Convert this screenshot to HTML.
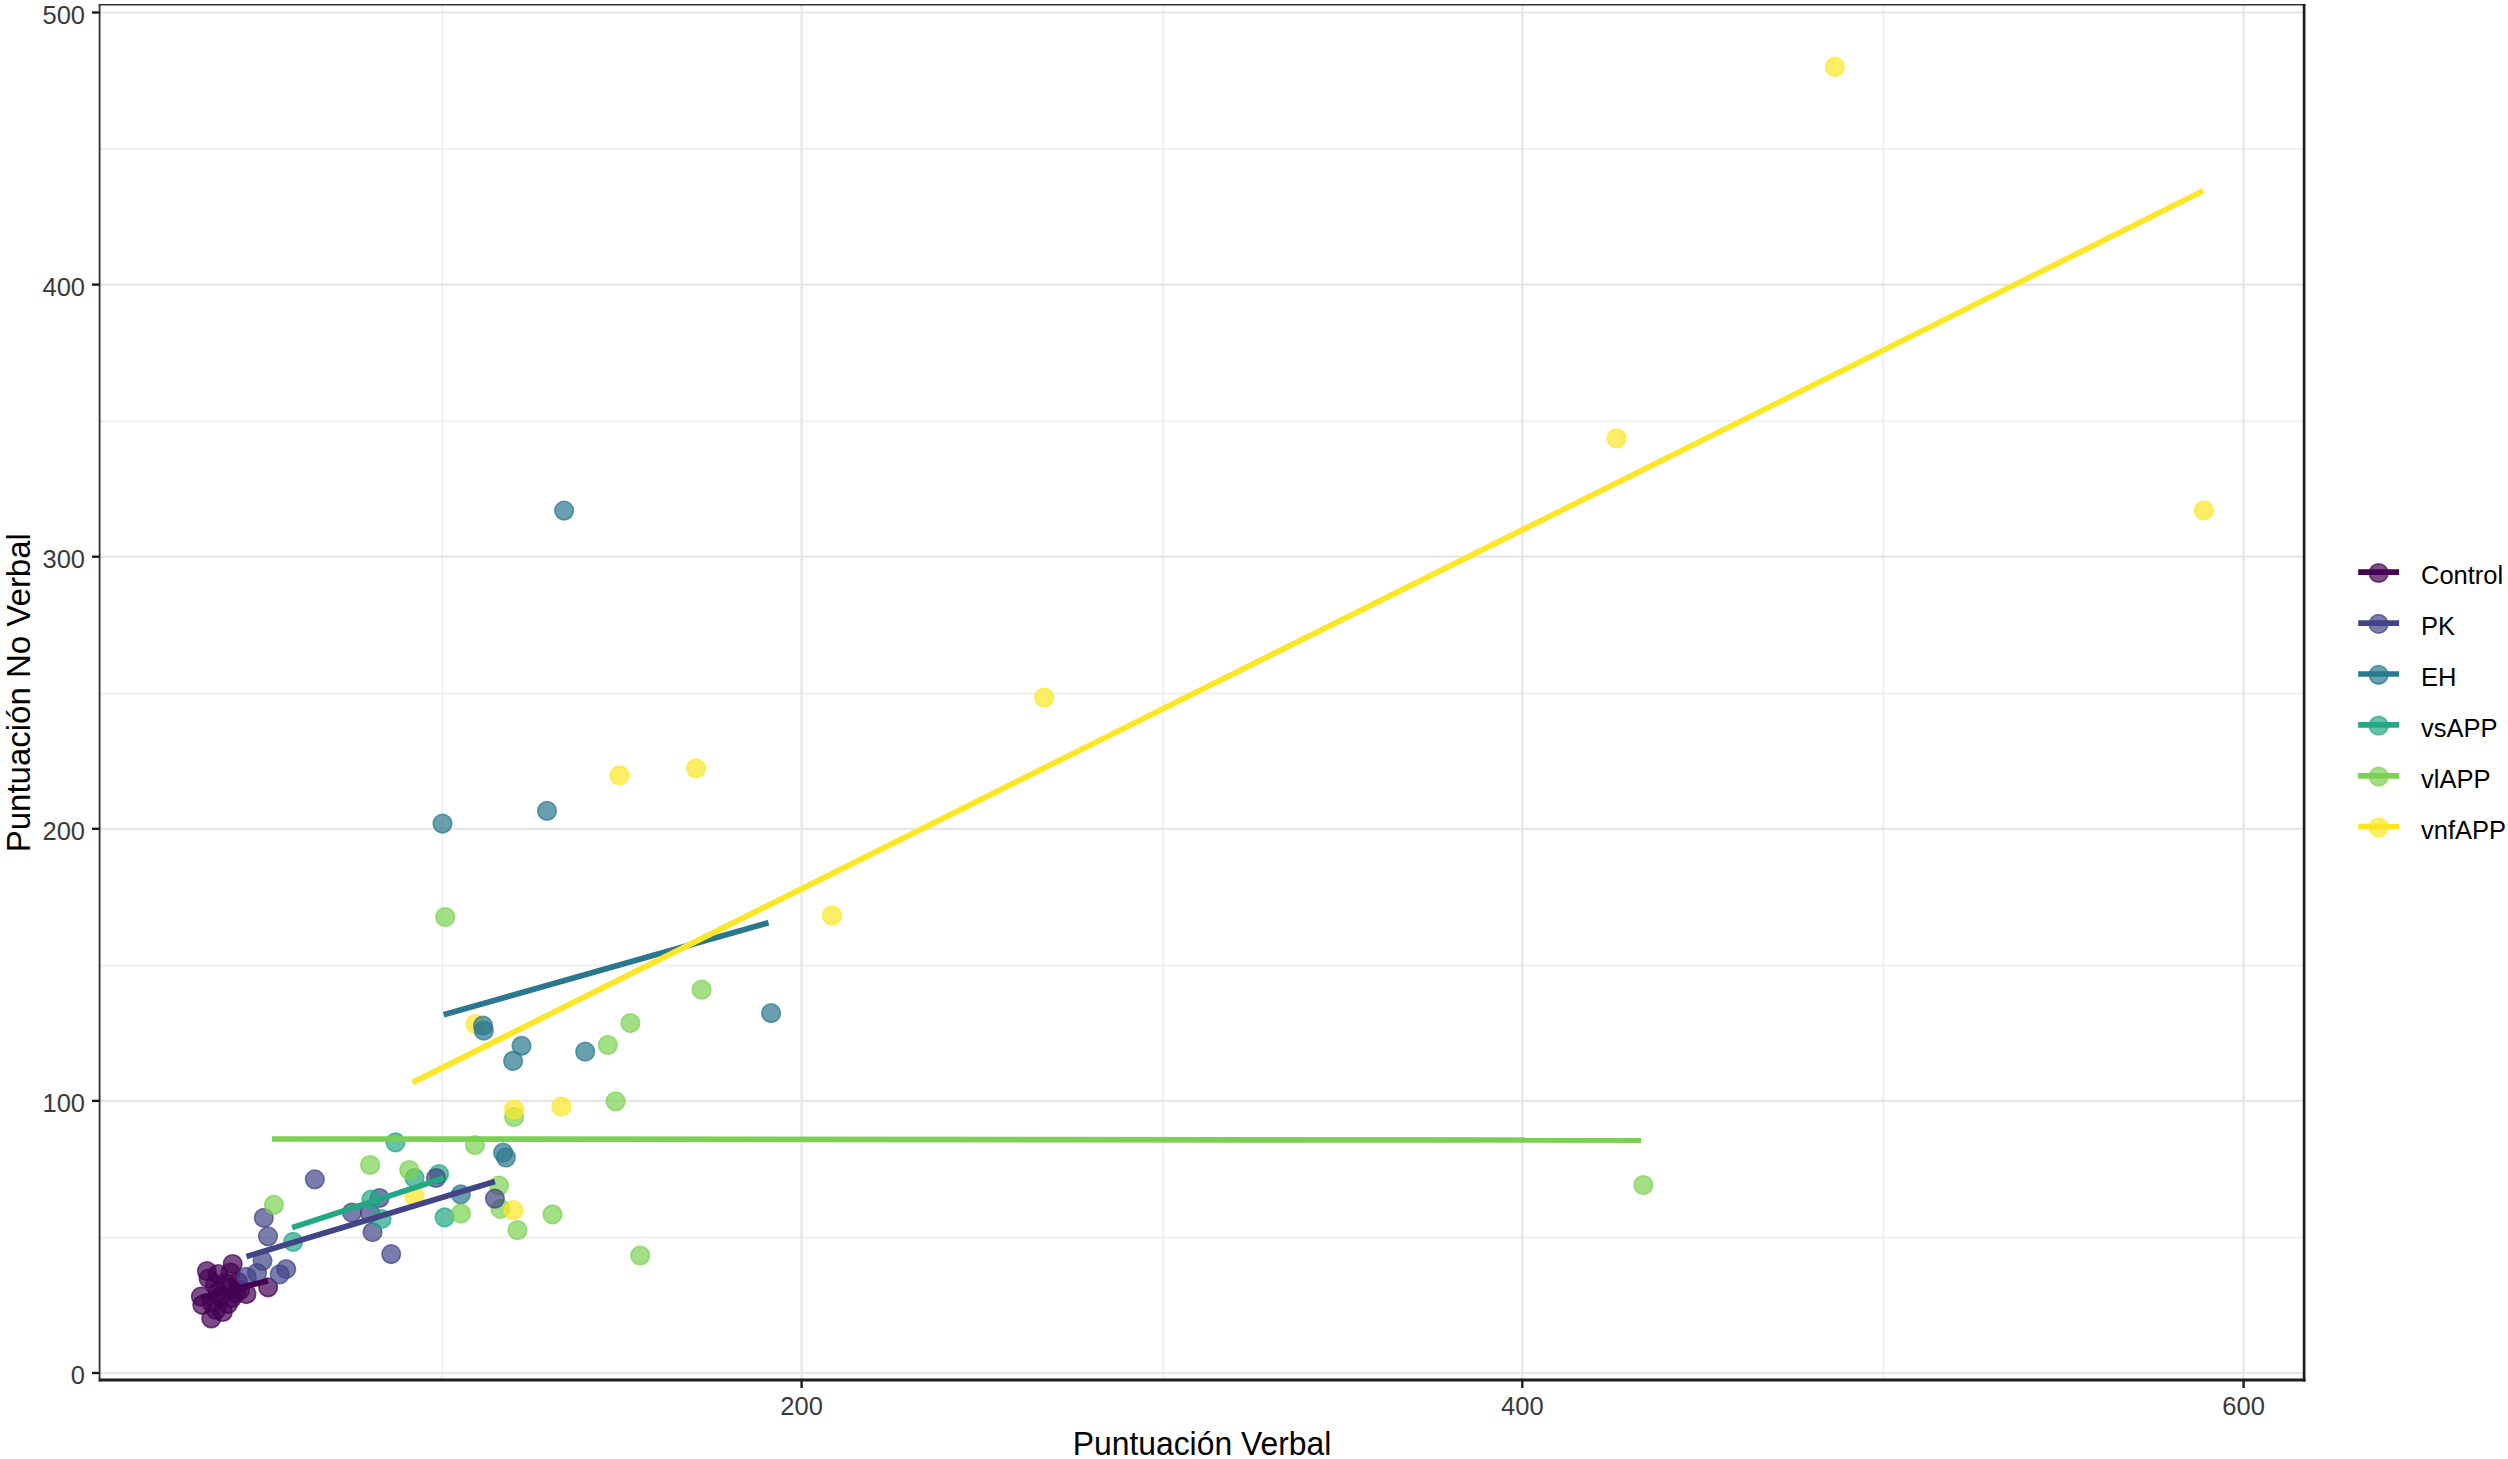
<!DOCTYPE html><html><head><meta charset="utf-8"><style>html,body{margin:0;padding:0;background:#fff;overflow:hidden}svg{display:block}text{font-family:"Liberation Sans",sans-serif}</style></head><body>
<svg width="2508" height="1459" viewBox="0 0 2508 1459">
<rect x="0" y="0" width="2508" height="1459" fill="#fff"/>
<g>
<line x1="99.5" x2="2304.3" y1="1237.5" y2="1237.5" stroke="#F0F0F0" stroke-width="2"/>
<line x1="99.5" x2="2304.3" y1="965.4" y2="965.4" stroke="#F0F0F0" stroke-width="2"/>
<line x1="99.5" x2="2304.3" y1="693.4" y2="693.4" stroke="#F0F0F0" stroke-width="2"/>
<line x1="99.5" x2="2304.3" y1="421.2" y2="421.2" stroke="#F0F0F0" stroke-width="2"/>
<line x1="99.5" x2="2304.3" y1="149.1" y2="149.1" stroke="#F0F0F0" stroke-width="2"/>
<line x1="442.3" x2="442.3" y1="4.6" y2="1380.0" stroke="#F0F0F0" stroke-width="2"/>
<line x1="1163.3" x2="1163.3" y1="4.6" y2="1380.0" stroke="#F0F0F0" stroke-width="2"/>
<line x1="1883.4" x2="1883.4" y1="4.6" y2="1380.0" stroke="#F0F0F0" stroke-width="2"/>
<line x1="99.5" x2="2304.3" y1="1373.0" y2="1373.0" stroke="#E6E6E6" stroke-width="2.2"/>
<line x1="99.5" x2="2304.3" y1="1100.9" y2="1100.9" stroke="#E6E6E6" stroke-width="2.2"/>
<line x1="99.5" x2="2304.3" y1="828.8" y2="828.8" stroke="#E6E6E6" stroke-width="2.2"/>
<line x1="99.5" x2="2304.3" y1="556.7" y2="556.7" stroke="#E6E6E6" stroke-width="2.2"/>
<line x1="99.5" x2="2304.3" y1="284.6" y2="284.6" stroke="#E6E6E6" stroke-width="2.2"/>
<line x1="99.5" x2="2304.3" y1="12.5" y2="12.5" stroke="#E6E6E6" stroke-width="2.2"/>
<line x1="801.6" x2="801.6" y1="4.6" y2="1380.0" stroke="#E6E6E6" stroke-width="2.2"/>
<line x1="1522.3" x2="1522.3" y1="4.6" y2="1380.0" stroke="#E6E6E6" stroke-width="2.2"/>
<line x1="2243.6" x2="2243.6" y1="4.6" y2="1380.0" stroke="#E6E6E6" stroke-width="2.2"/>
</g>
<g>
<circle cx="206.9" cy="1271.1" r="9.299999999999999" fill="#440154" fill-opacity="0.7" stroke="#440154" stroke-opacity="0.7" stroke-width="1.6"/>
<circle cx="232.7" cy="1264" r="9.299999999999999" fill="#440154" fill-opacity="0.7" stroke="#440154" stroke-opacity="0.7" stroke-width="1.6"/>
<circle cx="230.5" cy="1272.5" r="9.299999999999999" fill="#440154" fill-opacity="0.7" stroke="#440154" stroke-opacity="0.7" stroke-width="1.6"/>
<circle cx="200.9" cy="1296.6" r="9.299999999999999" fill="#440154" fill-opacity="0.7" stroke="#440154" stroke-opacity="0.7" stroke-width="1.6"/>
<circle cx="202.3" cy="1304.8" r="9.299999999999999" fill="#440154" fill-opacity="0.7" stroke="#440154" stroke-opacity="0.7" stroke-width="1.6"/>
<circle cx="211.3" cy="1318.5" r="9.299999999999999" fill="#440154" fill-opacity="0.7" stroke="#440154" stroke-opacity="0.7" stroke-width="1.6"/>
<circle cx="222.8" cy="1312" r="9.299999999999999" fill="#440154" fill-opacity="0.7" stroke="#440154" stroke-opacity="0.7" stroke-width="1.6"/>
<circle cx="246.4" cy="1294.1" r="9.299999999999999" fill="#440154" fill-opacity="0.7" stroke="#440154" stroke-opacity="0.7" stroke-width="1.6"/>
<circle cx="268.1" cy="1287.3" r="9.299999999999999" fill="#440154" fill-opacity="0.7" stroke="#440154" stroke-opacity="0.7" stroke-width="1.6"/>
<circle cx="208.6" cy="1278.5" r="9.299999999999999" fill="#440154" fill-opacity="0.7" stroke="#440154" stroke-opacity="0.7" stroke-width="1.6"/>
<circle cx="218" cy="1292" r="9.299999999999999" fill="#440154" fill-opacity="0.7" stroke="#440154" stroke-opacity="0.7" stroke-width="1.6"/>
<circle cx="230" cy="1288" r="9.299999999999999" fill="#440154" fill-opacity="0.7" stroke="#440154" stroke-opacity="0.7" stroke-width="1.6"/>
<circle cx="238" cy="1282" r="9.299999999999999" fill="#440154" fill-opacity="0.7" stroke="#440154" stroke-opacity="0.7" stroke-width="1.6"/>
<circle cx="218" cy="1274" r="9.299999999999999" fill="#440154" fill-opacity="0.7" stroke="#440154" stroke-opacity="0.7" stroke-width="1.6"/>
<circle cx="215" cy="1285" r="9.299999999999999" fill="#440154" fill-opacity="0.7" stroke="#440154" stroke-opacity="0.7" stroke-width="1.6"/>
<circle cx="225" cy="1283" r="9.299999999999999" fill="#440154" fill-opacity="0.7" stroke="#440154" stroke-opacity="0.7" stroke-width="1.6"/>
<circle cx="220" cy="1297" r="9.299999999999999" fill="#440154" fill-opacity="0.7" stroke="#440154" stroke-opacity="0.7" stroke-width="1.6"/>
<circle cx="212" cy="1303" r="9.299999999999999" fill="#440154" fill-opacity="0.7" stroke="#440154" stroke-opacity="0.7" stroke-width="1.6"/>
<circle cx="232" cy="1298" r="9.299999999999999" fill="#440154" fill-opacity="0.7" stroke="#440154" stroke-opacity="0.7" stroke-width="1.6"/>
<circle cx="240" cy="1290" r="9.299999999999999" fill="#440154" fill-opacity="0.7" stroke="#440154" stroke-opacity="0.7" stroke-width="1.6"/>
<circle cx="216" cy="1310" r="9.299999999999999" fill="#440154" fill-opacity="0.7" stroke="#440154" stroke-opacity="0.7" stroke-width="1.6"/>
<circle cx="228" cy="1304" r="9.299999999999999" fill="#440154" fill-opacity="0.7" stroke="#440154" stroke-opacity="0.7" stroke-width="1.6"/>
<circle cx="236" cy="1293" r="9.299999999999999" fill="#440154" fill-opacity="0.7" stroke="#440154" stroke-opacity="0.7" stroke-width="1.6"/>
<circle cx="314.8" cy="1179.3" r="9.299999999999999" fill="#414487" fill-opacity="0.7" stroke="#414487" stroke-opacity="0.7" stroke-width="1.6"/>
<circle cx="263.8" cy="1217.8" r="9.299999999999999" fill="#414487" fill-opacity="0.7" stroke="#414487" stroke-opacity="0.7" stroke-width="1.6"/>
<circle cx="268" cy="1236.3" r="9.299999999999999" fill="#414487" fill-opacity="0.7" stroke="#414487" stroke-opacity="0.7" stroke-width="1.6"/>
<circle cx="262.5" cy="1260.8" r="9.299999999999999" fill="#414487" fill-opacity="0.7" stroke="#414487" stroke-opacity="0.7" stroke-width="1.6"/>
<circle cx="286.2" cy="1269.2" r="9.299999999999999" fill="#414487" fill-opacity="0.7" stroke="#414487" stroke-opacity="0.7" stroke-width="1.6"/>
<circle cx="279.7" cy="1274.4" r="9.299999999999999" fill="#414487" fill-opacity="0.7" stroke="#414487" stroke-opacity="0.7" stroke-width="1.6"/>
<circle cx="246.7" cy="1276.9" r="9.299999999999999" fill="#414487" fill-opacity="0.7" stroke="#414487" stroke-opacity="0.7" stroke-width="1.6"/>
<circle cx="257" cy="1273" r="9.299999999999999" fill="#414487" fill-opacity="0.7" stroke="#414487" stroke-opacity="0.7" stroke-width="1.6"/>
<circle cx="351.9" cy="1212.5" r="9.299999999999999" fill="#414487" fill-opacity="0.7" stroke="#414487" stroke-opacity="0.7" stroke-width="1.6"/>
<circle cx="379.5" cy="1198" r="9.299999999999999" fill="#414487" fill-opacity="0.7" stroke="#414487" stroke-opacity="0.7" stroke-width="1.6"/>
<circle cx="372.5" cy="1232.2" r="9.299999999999999" fill="#414487" fill-opacity="0.7" stroke="#414487" stroke-opacity="0.7" stroke-width="1.6"/>
<circle cx="391.2" cy="1254.1" r="9.299999999999999" fill="#414487" fill-opacity="0.7" stroke="#414487" stroke-opacity="0.7" stroke-width="1.6"/>
<circle cx="370" cy="1213" r="9.299999999999999" fill="#414487" fill-opacity="0.7" stroke="#414487" stroke-opacity="0.7" stroke-width="1.6"/>
<circle cx="475.5" cy="1024" r="9.299999999999999" fill="#FDE725" fill-opacity="0.7" stroke="#FDE725" stroke-opacity="0.7" stroke-width="1.6"/>
<circle cx="564.1" cy="510.6" r="9.299999999999999" fill="#2A788E" fill-opacity="0.7" stroke="#2A788E" stroke-opacity="0.7" stroke-width="1.6"/>
<circle cx="442.5" cy="823.6" r="9.299999999999999" fill="#2A788E" fill-opacity="0.7" stroke="#2A788E" stroke-opacity="0.7" stroke-width="1.6"/>
<circle cx="547" cy="810.8" r="9.299999999999999" fill="#2A788E" fill-opacity="0.7" stroke="#2A788E" stroke-opacity="0.7" stroke-width="1.6"/>
<circle cx="483" cy="1025.7" r="9.299999999999999" fill="#2A788E" fill-opacity="0.7" stroke="#2A788E" stroke-opacity="0.7" stroke-width="1.6"/>
<circle cx="483.8" cy="1030.7" r="9.299999999999999" fill="#2A788E" fill-opacity="0.7" stroke="#2A788E" stroke-opacity="0.7" stroke-width="1.6"/>
<circle cx="521.5" cy="1045.8" r="9.299999999999999" fill="#2A788E" fill-opacity="0.7" stroke="#2A788E" stroke-opacity="0.7" stroke-width="1.6"/>
<circle cx="513.1" cy="1060.9" r="9.299999999999999" fill="#2A788E" fill-opacity="0.7" stroke="#2A788E" stroke-opacity="0.7" stroke-width="1.6"/>
<circle cx="585.2" cy="1051.7" r="9.299999999999999" fill="#2A788E" fill-opacity="0.7" stroke="#2A788E" stroke-opacity="0.7" stroke-width="1.6"/>
<circle cx="771.1" cy="1013.1" r="9.299999999999999" fill="#2A788E" fill-opacity="0.7" stroke="#2A788E" stroke-opacity="0.7" stroke-width="1.6"/>
<circle cx="503.1" cy="1152.7" r="9.299999999999999" fill="#2A788E" fill-opacity="0.7" stroke="#2A788E" stroke-opacity="0.7" stroke-width="1.6"/>
<circle cx="505.9" cy="1157.5" r="9.299999999999999" fill="#2A788E" fill-opacity="0.7" stroke="#2A788E" stroke-opacity="0.7" stroke-width="1.6"/>
<circle cx="460.8" cy="1194.4" r="9.299999999999999" fill="#2A788E" fill-opacity="0.7" stroke="#2A788E" stroke-opacity="0.7" stroke-width="1.6"/>
<circle cx="293.1" cy="1241.9" r="9.299999999999999" fill="#22A884" fill-opacity="0.7" stroke="#22A884" stroke-opacity="0.7" stroke-width="1.6"/>
<circle cx="371.4" cy="1199.5" r="9.299999999999999" fill="#22A884" fill-opacity="0.7" stroke="#22A884" stroke-opacity="0.7" stroke-width="1.6"/>
<circle cx="381.5" cy="1219" r="9.299999999999999" fill="#22A884" fill-opacity="0.7" stroke="#22A884" stroke-opacity="0.7" stroke-width="1.6"/>
<circle cx="414.5" cy="1178" r="9.299999999999999" fill="#22A884" fill-opacity="0.7" stroke="#22A884" stroke-opacity="0.7" stroke-width="1.6"/>
<circle cx="439" cy="1174" r="9.299999999999999" fill="#22A884" fill-opacity="0.7" stroke="#22A884" stroke-opacity="0.7" stroke-width="1.6"/>
<circle cx="444.6" cy="1217.4" r="9.299999999999999" fill="#22A884" fill-opacity="0.7" stroke="#22A884" stroke-opacity="0.7" stroke-width="1.6"/>
<circle cx="395.5" cy="1142.4" r="9.299999999999999" fill="#22A884" fill-opacity="0.7" stroke="#22A884" stroke-opacity="0.7" stroke-width="1.6"/>
<circle cx="273.9" cy="1204.8" r="9.299999999999999" fill="#7AD151" fill-opacity="0.7" stroke="#7AD151" stroke-opacity="0.7" stroke-width="1.6"/>
<circle cx="370.1" cy="1165" r="9.299999999999999" fill="#7AD151" fill-opacity="0.7" stroke="#7AD151" stroke-opacity="0.7" stroke-width="1.6"/>
<circle cx="409.2" cy="1170" r="9.299999999999999" fill="#7AD151" fill-opacity="0.7" stroke="#7AD151" stroke-opacity="0.7" stroke-width="1.6"/>
<circle cx="461" cy="1213.7" r="9.299999999999999" fill="#7AD151" fill-opacity="0.7" stroke="#7AD151" stroke-opacity="0.7" stroke-width="1.6"/>
<circle cx="475" cy="1145.1" r="9.299999999999999" fill="#7AD151" fill-opacity="0.7" stroke="#7AD151" stroke-opacity="0.7" stroke-width="1.6"/>
<circle cx="499" cy="1185.6" r="9.299999999999999" fill="#7AD151" fill-opacity="0.7" stroke="#7AD151" stroke-opacity="0.7" stroke-width="1.6"/>
<circle cx="500.4" cy="1208.9" r="9.299999999999999" fill="#7AD151" fill-opacity="0.7" stroke="#7AD151" stroke-opacity="0.7" stroke-width="1.6"/>
<circle cx="517.5" cy="1230.1" r="9.299999999999999" fill="#7AD151" fill-opacity="0.7" stroke="#7AD151" stroke-opacity="0.7" stroke-width="1.6"/>
<circle cx="552.5" cy="1214.4" r="9.299999999999999" fill="#7AD151" fill-opacity="0.7" stroke="#7AD151" stroke-opacity="0.7" stroke-width="1.6"/>
<circle cx="640.2" cy="1255.5" r="9.299999999999999" fill="#7AD151" fill-opacity="0.7" stroke="#7AD151" stroke-opacity="0.7" stroke-width="1.6"/>
<circle cx="615.6" cy="1101.3" r="9.299999999999999" fill="#7AD151" fill-opacity="0.7" stroke="#7AD151" stroke-opacity="0.7" stroke-width="1.6"/>
<circle cx="514.1" cy="1117" r="9.299999999999999" fill="#7AD151" fill-opacity="0.7" stroke="#7AD151" stroke-opacity="0.7" stroke-width="1.6"/>
<circle cx="445.2" cy="917" r="9.299999999999999" fill="#7AD151" fill-opacity="0.7" stroke="#7AD151" stroke-opacity="0.7" stroke-width="1.6"/>
<circle cx="607.8" cy="1045" r="9.299999999999999" fill="#7AD151" fill-opacity="0.7" stroke="#7AD151" stroke-opacity="0.7" stroke-width="1.6"/>
<circle cx="630.4" cy="1023.2" r="9.299999999999999" fill="#7AD151" fill-opacity="0.7" stroke="#7AD151" stroke-opacity="0.7" stroke-width="1.6"/>
<circle cx="701.6" cy="989.7" r="9.299999999999999" fill="#7AD151" fill-opacity="0.7" stroke="#7AD151" stroke-opacity="0.7" stroke-width="1.6"/>
<circle cx="1643.3" cy="1185" r="9.299999999999999" fill="#7AD151" fill-opacity="0.7" stroke="#7AD151" stroke-opacity="0.7" stroke-width="1.6"/>
<circle cx="414.4" cy="1196.7" r="9.299999999999999" fill="#FDE725" fill-opacity="0.7" stroke="#FDE725" stroke-opacity="0.7" stroke-width="1.6"/>
<circle cx="513.4" cy="1210.2" r="9.299999999999999" fill="#FDE725" fill-opacity="0.7" stroke="#FDE725" stroke-opacity="0.7" stroke-width="1.6"/>
<circle cx="514.1" cy="1109.5" r="9.299999999999999" fill="#FDE725" fill-opacity="0.7" stroke="#FDE725" stroke-opacity="0.7" stroke-width="1.6"/>
<circle cx="561.4" cy="1106.7" r="9.299999999999999" fill="#FDE725" fill-opacity="0.7" stroke="#FDE725" stroke-opacity="0.7" stroke-width="1.6"/>
<circle cx="619.5" cy="775.4" r="9.299999999999999" fill="#FDE725" fill-opacity="0.7" stroke="#FDE725" stroke-opacity="0.7" stroke-width="1.6"/>
<circle cx="696.1" cy="768.3" r="9.299999999999999" fill="#FDE725" fill-opacity="0.7" stroke="#FDE725" stroke-opacity="0.7" stroke-width="1.6"/>
<circle cx="832" cy="915.5" r="9.299999999999999" fill="#FDE725" fill-opacity="0.7" stroke="#FDE725" stroke-opacity="0.7" stroke-width="1.6"/>
<circle cx="1044.1" cy="697.7" r="9.299999999999999" fill="#FDE725" fill-opacity="0.7" stroke="#FDE725" stroke-opacity="0.7" stroke-width="1.6"/>
<circle cx="1616.5" cy="438.4" r="9.299999999999999" fill="#FDE725" fill-opacity="0.7" stroke="#FDE725" stroke-opacity="0.7" stroke-width="1.6"/>
<circle cx="1834.9" cy="66.9" r="9.299999999999999" fill="#FDE725" fill-opacity="0.7" stroke="#FDE725" stroke-opacity="0.7" stroke-width="1.6"/>
<circle cx="2203.8" cy="510.3" r="9.299999999999999" fill="#FDE725" fill-opacity="0.7" stroke="#FDE725" stroke-opacity="0.7" stroke-width="1.6"/>
<circle cx="436" cy="1178" r="9.299999999999999" fill="#414487" fill-opacity="0.7" stroke="#414487" stroke-opacity="0.7" stroke-width="1.6"/>
<circle cx="494.9" cy="1198.6" r="9.299999999999999" fill="#414487" fill-opacity="0.7" stroke="#414487" stroke-opacity="0.7" stroke-width="1.6"/>
</g>
<g>
<line x1="200.9" y1="1297.5" x2="268.1" y2="1280.7" stroke="#440154" stroke-width="5.7" stroke-linecap="butt"/>
<line x1="246.5" y1="1256.5" x2="494.9" y2="1181.5" stroke="#414487" stroke-width="5.7" stroke-linecap="butt"/>
<line x1="443.6" y1="1014.8" x2="768.5" y2="922.7" stroke="#2A788E" stroke-width="5.7" stroke-linecap="butt"/>
<line x1="292.1" y1="1227.6" x2="444.2" y2="1178" stroke="#22A884" stroke-width="5.7" stroke-linecap="butt"/>
<line x1="271.9" y1="1139" x2="1641" y2="1140.1" stroke="#7AD151" stroke-width="5.7" stroke-linecap="butt"/>
<line x1="412.7" y1="1082.4" x2="2203.3" y2="190.8" stroke="#FDE725" stroke-width="5.7" stroke-linecap="butt"/>
</g>
<line x1="98.7" x2="2305.5" y1="4.75" y2="4.75" stroke="#333" stroke-width="1.6"/>
<line x1="99.6" x2="99.6" y1="3.9" y2="1381.4" stroke="#333" stroke-width="1.8"/>
<line x1="98.7" x2="2305.5" y1="1379.95" y2="1379.95" stroke="#1e1e1e" stroke-width="2.9"/>
<line x1="2304.1" x2="2304.1" y1="3.9" y2="1381.4" stroke="#1e1e1e" stroke-width="2.7"/>
<line x1="92" x2="99.5" y1="1373.0" y2="1373.0" stroke="#1a1a1a" stroke-width="2.4"/>
<text x="85" y="1384.0" font-size="25.5" fill="#3a3a3a" text-anchor="end">0</text>
<line x1="92" x2="99.5" y1="1100.9" y2="1100.9" stroke="#1a1a1a" stroke-width="2.4"/>
<text x="85" y="1111.9" font-size="25.5" fill="#3a3a3a" text-anchor="end">100</text>
<line x1="92" x2="99.5" y1="828.8" y2="828.8" stroke="#1a1a1a" stroke-width="2.4"/>
<text x="85" y="839.8" font-size="25.5" fill="#3a3a3a" text-anchor="end">200</text>
<line x1="92" x2="99.5" y1="556.7" y2="556.7" stroke="#1a1a1a" stroke-width="2.4"/>
<text x="85" y="567.7" font-size="25.5" fill="#3a3a3a" text-anchor="end">300</text>
<line x1="92" x2="99.5" y1="284.6" y2="284.6" stroke="#1a1a1a" stroke-width="2.4"/>
<text x="85" y="295.6" font-size="25.5" fill="#3a3a3a" text-anchor="end">400</text>
<line x1="92" x2="99.5" y1="12.5" y2="12.5" stroke="#1a1a1a" stroke-width="2.4"/>
<text x="85" y="23.5" font-size="25.5" fill="#3a3a3a" text-anchor="end">500</text>
<line x1="801.6" x2="801.6" y1="1380.0" y2="1388" stroke="#1a1a1a" stroke-width="2.4"/>
<text x="801.6" y="1415" font-size="25.5" fill="#3a3a3a" text-anchor="middle">200</text>
<line x1="1522.3" x2="1522.3" y1="1380.0" y2="1388" stroke="#1a1a1a" stroke-width="2.4"/>
<text x="1522.3" y="1415" font-size="25.5" fill="#3a3a3a" text-anchor="middle">400</text>
<line x1="2243.6" x2="2243.6" y1="1380.0" y2="1388" stroke="#1a1a1a" stroke-width="2.4"/>
<text x="2243.6" y="1415" font-size="25.5" fill="#3a3a3a" text-anchor="middle">600</text>
<text x="1202" y="1455" font-size="33.5" textLength="258.5" lengthAdjust="spacingAndGlyphs" fill="#000" text-anchor="middle">Puntuación Verbal</text>
<text transform="translate(29.5,692.7) rotate(-90)" font-size="33" fill="#000" text-anchor="middle">Puntuación No Verbal</text>
<circle cx="2378.6" cy="573.0" r="9.299999999999999" fill="#440154" fill-opacity="0.7" stroke="#440154" stroke-opacity="0.7" stroke-width="1.6"/>
<line x1="2358.2" x2="2399.1" y1="572.2" y2="572.2" stroke="#440154" stroke-width="5.7"/>
<text x="2421" y="584.2" font-size="25.5" fill="#000">Control</text>
<circle cx="2378.6" cy="623.9" r="9.299999999999999" fill="#414487" fill-opacity="0.7" stroke="#414487" stroke-opacity="0.7" stroke-width="1.6"/>
<line x1="2358.2" x2="2399.1" y1="623.1" y2="623.1" stroke="#414487" stroke-width="5.7"/>
<text x="2421" y="635.1" font-size="25.5" fill="#000">PK</text>
<circle cx="2378.6" cy="674.8" r="9.299999999999999" fill="#2A788E" fill-opacity="0.7" stroke="#2A788E" stroke-opacity="0.7" stroke-width="1.6"/>
<line x1="2358.2" x2="2399.1" y1="674.0" y2="674.0" stroke="#2A788E" stroke-width="5.7"/>
<text x="2421" y="686.0" font-size="25.5" fill="#000">EH</text>
<circle cx="2378.6" cy="725.7" r="9.299999999999999" fill="#22A884" fill-opacity="0.7" stroke="#22A884" stroke-opacity="0.7" stroke-width="1.6"/>
<line x1="2358.2" x2="2399.1" y1="724.9" y2="724.9" stroke="#22A884" stroke-width="5.7"/>
<text x="2421" y="736.9" font-size="25.5" fill="#000">vsAPP</text>
<circle cx="2378.6" cy="776.6" r="9.299999999999999" fill="#7AD151" fill-opacity="0.7" stroke="#7AD151" stroke-opacity="0.7" stroke-width="1.6"/>
<line x1="2358.2" x2="2399.1" y1="775.8" y2="775.8" stroke="#7AD151" stroke-width="5.7"/>
<text x="2421" y="787.8" font-size="25.5" fill="#000">vlAPP</text>
<circle cx="2378.6" cy="827.5" r="9.299999999999999" fill="#FDE725" fill-opacity="0.7" stroke="#FDE725" stroke-opacity="0.7" stroke-width="1.6"/>
<line x1="2358.2" x2="2399.1" y1="826.7" y2="826.7" stroke="#FDE725" stroke-width="5.7"/>
<text x="2421" y="838.7" font-size="25.5" fill="#000">vnfAPP</text>
</svg></body></html>
